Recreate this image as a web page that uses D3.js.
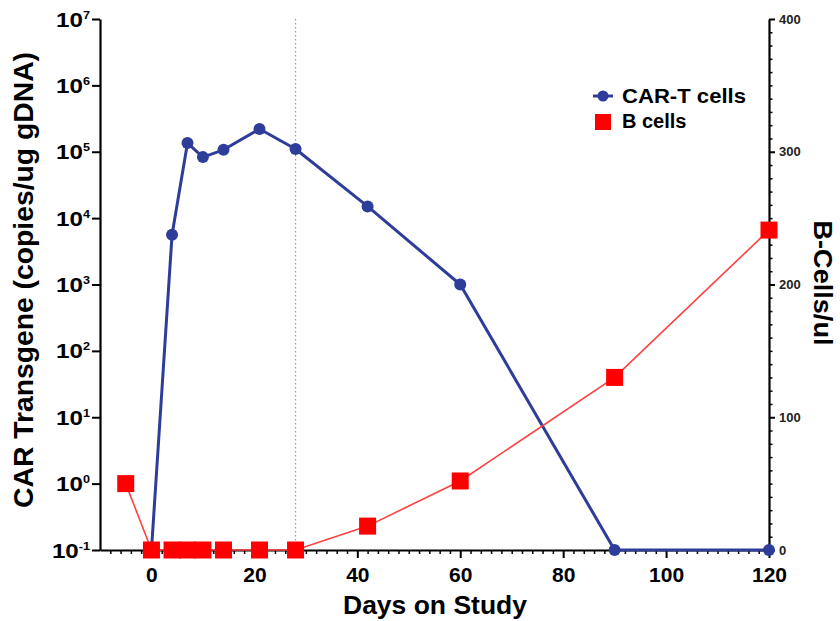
<!DOCTYPE html>
<html>
<head>
<meta charset="utf-8">
<script src="https://cdn.jsdelivr.net/npm/d3@7"></script>
<style>
  html, body { margin: 0; padding: 0; background: #fff; }
  svg { display: block; font-family: Arial, "Liberation Sans", sans-serif; }
</style>
</head>
<body>
<svg id="chart" width="840" height="621"></svg>
<script>
// CAR transgene level (copies/ug gDNA) by study day
const carDays = [0, 4, 7, 10, 14, 21, 28, 42, 60, 90, 120];
const carValues = [0.1, 5600, 135000, 83000, 107000, 220000, 110000, 15000, 1000, 0.1, 0.1];

// B cell counts (cells/ul) by study day
const bDays = [-5, 0, 4, 7, 10, 14, 21, 28, 42, 60, 90, 120];
const bValues = [50, 0, 0, 0, 0, 0, 0, 0, 18, 52, 130, 241];

// Axis ticks
const logExponents = [-1, 0, 1, 2, 3, 4, 5, 6, 7];
const dayTicks = [0, 20, 40, 60, 80, 100, 120];
const bTicks = [0, 100, 200, 300, 400];

const svg = d3.select("#chart");
const plotLeft = 100, plotRight = 769, plotTop = 19, plotBottom = 550;

const x = d3.scaleLinear().domain([-10, 120]).range([plotLeft, plotRight]);
const yLog = d3.scaleLog().domain([0.1, 1e7]).range([plotBottom, plotTop]);
const yB = d3.scaleLinear().domain([0, 400]).range([plotBottom, plotTop]);

const blue = "#2e3d99";
const red = "#ff0000";
const font = "Arial, 'Liberation Sans', sans-serif";

// Reference line at day 28
svg.append("line")
  .attr("x1", x(28)).attr("x2", x(28))
  .attr("y1", plotTop).attr("y2", plotBottom)
  .attr("stroke", "#999").attr("stroke-width", 1.2)
  .attr("stroke-dasharray", "1.5,2.5");

// Bottom axis: minor ticks every 2 days, major every 20
const minorDays = d3.range(-8, 121, 2).filter(d => d % 20 !== 0);
svg.append("g")
  .attr("transform", `translate(0,${plotBottom})`)
  .call(d3.axisBottom(x).tickValues(minorDays).tickSize(4).tickFormat(""))
  .call(g => g.select(".domain").remove())
  .selectAll("line").attr("stroke", "#000").attr("stroke-width", 1.5);

const xAxis = svg.append("g")
  .attr("transform", `translate(0,${plotBottom})`)
  .call(d3.axisBottom(x).tickValues(dayTicks).tickSize(8).tickSizeOuter(0).tickPadding(9));
xAxis.select(".domain").attr("stroke", "#000").attr("stroke-width", 2.2);
xAxis.selectAll(".tick line").attr("stroke", "#000").attr("stroke-width", 2);
xAxis.selectAll(".tick text")
  .attr("font-size", 21).attr("font-weight", "bold").attr("fill", "#000")
  .attr("font-family", font)
  .attr("dy", null).attr("y", 32);

// Left log axis with superscript labels
const yAxisL = svg.append("g")
  .attr("transform", `translate(${plotLeft},0)`)
  .call(d3.axisLeft(yLog).tickValues(logExponents.map(e => Math.pow(10, e)))
    .tickSize(8).tickSizeOuter(0).tickFormat(""));
yAxisL.select(".domain").attr("stroke", "#000").attr("stroke-width", 2.2);
yAxisL.selectAll(".tick line").attr("stroke", "#000").attr("stroke-width", 2);
yAxisL.selectAll(".tick").each(function(d) {
  const e = Math.round(Math.log10(d));
  const t = d3.select(this).append("text")
    .attr("transform", "translate(-10,7) scale(1.15,1)")
    .attr("text-anchor", "end")
    .attr("font-size", 21).attr("font-weight", "bold").attr("fill", "#000");
  t.append("tspan").text("10");
  t.append("tspan").attr("dy", -8).attr("font-size", 11)
    .text(e < 0 ? "-" + Math.abs(e) : String(e));
});

// Right linear axis: minor ticks every 10
svg.append("g")
  .attr("transform", `translate(${plotRight},0)`)
  .call(d3.axisRight(yB).tickValues(d3.range(0, 401, 10).filter(v => v % 100 !== 0))
    .tickSize(3.5).tickFormat(""))
  .call(g => g.select(".domain").remove())
  .selectAll("line").attr("stroke", "#000").attr("stroke-width", 1.5);

const yAxisR = svg.append("g")
  .attr("transform", `translate(${plotRight},0)`)
  .call(d3.axisRight(yB).tickValues(bTicks).tickSize(6).tickSizeOuter(0).tickPadding(4));
yAxisR.select(".domain").attr("stroke", "#000").attr("stroke-width", 2.2);
yAxisR.selectAll(".tick line").attr("stroke", "#000").attr("stroke-width", 2);
yAxisR.selectAll(".tick text")
  .attr("font-size", 13).attr("font-weight", "bold").attr("fill", "#222")
  .attr("font-family", font);

// Axis titles
svg.append("text")
  .attr("transform", "translate(33,280) rotate(-90)")
  .attr("text-anchor", "middle")
  .attr("font-size", 27).attr("font-weight", "bold").attr("fill", "#000")
  .attr("textLength", 456).attr("lengthAdjust", "spacingAndGlyphs")
  .text("CAR Transgene (copies/ug gDNA)");

svg.append("text")
  .attr("transform", "translate(814,283) rotate(90)")
  .attr("text-anchor", "middle")
  .attr("font-size", 26).attr("font-weight", "bold").attr("fill", "#000")
  .attr("textLength", 125).attr("lengthAdjust", "spacingAndGlyphs")
  .text("B-Cells/ul");

svg.append("text")
  .attr("x", 435).attr("y", 614)
  .attr("text-anchor", "middle")
  .attr("font-size", 26).attr("font-weight", "bold").attr("fill", "#000")
  .attr("textLength", 184).attr("lengthAdjust", "spacingAndGlyphs")
  .text("Days on Study");

// CAR-T series
const carData = carDays.map((d, i) => ({ day: d, v: carValues[i] }));
svg.append("path")
  .datum(carData)
  .attr("fill", "none").attr("stroke", blue).attr("stroke-width", 3)
  .attr("stroke-linejoin", "round")
  .attr("d", d3.line().x(d => x(d.day)).y(d => yLog(d.v)));
svg.selectAll("circle.car")
  .data(carData).join("circle")
  .attr("class", "car")
  .attr("cx", d => x(d.day)).attr("cy", d => yLog(d.v))
  .attr("r", 6).attr("fill", blue);

// B cell series
const bData = bDays.map((d, i) => ({ day: d, v: bValues[i] }));
svg.append("path")
  .datum(bData)
  .attr("fill", "none").attr("stroke", "#ff4040").attr("stroke-width", 1.6)
  .attr("d", d3.line().x(d => x(d.day)).y(d => yB(d.v)));
const sq = 17;
svg.selectAll("rect.bcell")
  .data(bData).join("rect")
  .attr("class", "bcell")
  .attr("x", d => x(d.day) - sq / 2).attr("y", d => yB(d.v) - sq / 2)
  .attr("width", sq).attr("height", sq).attr("fill", red);

// Legend
const legend = svg.append("g").attr("transform", "translate(603,96)");
legend.append("line").attr("x1", -10).attr("x2", 10).attr("y1", 0).attr("y2", 0)
  .attr("stroke", blue).attr("stroke-width", 3);
legend.append("circle").attr("r", 5.5).attr("fill", blue);
legend.append("text").attr("x", 19).attr("y", 7)
  .attr("font-size", 20).attr("font-weight", "bold").attr("fill", "#000")
  .attr("textLength", 124).attr("lengthAdjust", "spacingAndGlyphs")
  .text("CAR-T cells");
legend.append("rect").attr("x", -8).attr("y", 18).attr("width", 16).attr("height", 16)
  .attr("fill", red);
legend.append("text").attr("x", 19).attr("y", 32)
  .attr("font-size", 20).attr("font-weight", "bold").attr("fill", "#000")
  .text("B cells");
</script>
</body>
</html>
